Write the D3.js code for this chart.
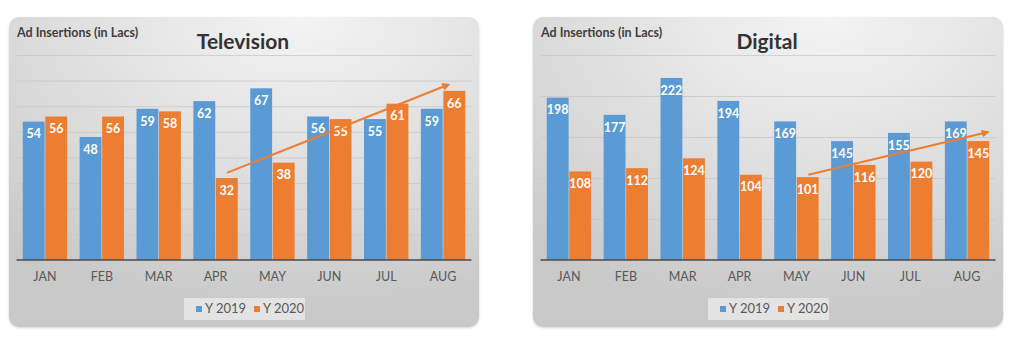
<!DOCTYPE html>
<html>
<head>
<meta charset="utf-8">
<script src="https://cdn.jsdelivr.net/npm/d3@7"></script>
<style>
  html, body { margin: 0; padding: 0; background: #ffffff; }
  svg { display: block; }
  text { font-family: Lato, "Open Sans", sans-serif; }
</style>
</head>
<body>
<svg id="chart" width="1024" height="344"></svg>
<script>
// ---------- data ----------
const months = ["JAN", "FEB", "MAR", "APR", "MAY", "JUN", "JUL", "AUG"];
const seriesNames = ["Y 2019", "Y 2020"];
const tv2019 = [54, 48, 59, 62, 67, 56, 55, 59];
const tv2020 = [56, 56, 58, 32, 38, 55, 61, 66];
const dig2019 = [198, 177, 222, 194, 169, 145, 155, 169];
const dig2020 = [108, 112, 124, 104, 101, 116, 120, 145];
const tvTicks = [0, 10, 20, 30, 40, 50, 60, 70, 80];
const digTicks = [0, 50, 100, 150, 200, 250];
// trend arrows: [category position (fractional index), value]
const tvTrend = [[3.2, 34], [7.1, 68.5]];
const digTrend = [[4.21, 104], [7.37, 156]];
const titles = ["Television", "Digital"];
const yAxisTitle = "Ad Insertions (in Lacs)";

// ---------- style ----------
const colors = ["#5B9BD5", "#ED7D31"];
const svg = d3.select("#chart");

const defs = svg.append("defs");
const grad = defs.append("radialGradient").attr("id", "panelBg")
  .attr("cx", "62%").attr("cy", "0%").attr("r", "95%").attr("fx", "62%").attr("fy", "0%");
grad.append("stop").attr("offset", "0%").attr("stop-color", "#f4f4f4");
grad.append("stop").attr("offset", "55%").attr("stop-color", "#dedede");
grad.append("stop").attr("offset", "100%").attr("stop-color", "#c9c9c9");

const shadow = defs.append("filter").attr("id", "shadow").attr("x", "-5%").attr("y", "-5%").attr("width", "110%").attr("height", "115%");
shadow.append("feDropShadow").attr("dx", 0).attr("dy", 1).attr("stdDeviation", 1.2).attr("flood-color", "#000").attr("flood-opacity", 0.18);

const marker = defs.append("marker").attr("id", "arrow").attr("viewBox", "0 0 10 10")
  .attr("refX", 8).attr("refY", 5).attr("markerWidth", 4).attr("markerHeight", 4).attr("orient", "auto");
marker.append("path").attr("d", "M0,0 L10,5 L0,10 z").attr("fill", colors[1]);

function drawPanel(px, title, s1, s2, ticks, trend) {
  const W = 470, H = 310, py = 17;
  const g = svg.append("g").attr("transform", `translate(${px},${py})`);
  g.append("rect").attr("width", W).attr("height", H).attr("rx", 10)
    .attr("fill", "url(#panelBg)").attr("filter", "url(#shadow)");

  const x0 = 7.5, x1 = 462.5, yTop = 38, yBase = 243;
  const x = d3.scaleBand().domain(months).range([x0, x1]).paddingInner(0.22).paddingOuter(0.11);
  const xs = d3.scaleBand().domain(seriesNames).range([0, x.bandwidth()]).paddingInner(0.03);
  const xLin = d3.scaleLinear().domain([-0.5, months.length - 0.5]).range([x0, x1]);
  const y = d3.scaleLinear().domain([0, d3.max(ticks)]).range([yBase, yTop]);

  // gridlines
  g.append("g").selectAll("line").data(ticks.slice(1)).join("line")
    .attr("x1", x0).attr("x2", x1)
    .attr("y1", d => y(d) + 0.5).attr("y2", d => y(d) + 0.5)
    .attr("stroke", "#c4c4c4").attr("stroke-opacity", 0.7).attr("stroke-width", 1);

  // bars
  const data = months.map((m, i) => ({ m, vals: [s1[i], s2[i]] }));
  const grp = g.append("g").selectAll("g").data(data).join("g")
    .attr("transform", d => `translate(${x(d.m)},0)`);
  grp.selectAll("rect").data(d => d.vals.map((v, k) => ({ v, k }))).join("rect")
    .attr("x", d => xs(seriesNames[d.k])).attr("width", xs.bandwidth())
    .attr("y", d => y(d.v)).attr("height", d => yBase - y(d.v))
    .attr("fill", d => colors[d.k]);
  grp.selectAll("text").data(d => d.vals.map((v, k) => ({ v, k }))).join("text")
    .attr("x", d => xs(seriesNames[d.k]) + xs.bandwidth() / 2)
    .attr("y", d => y(d.v) + 13.5)
    .attr("text-anchor", "middle").attr("dominant-baseline", "middle")
    .attr("fill", "#ffffff").attr("font-weight", "bold").attr("font-size", 12.5)
    .text(d => d.v);

  // axis
  const axis = g.append("g").attr("transform", `translate(0,${yBase})`)
    .call(d3.axisBottom(x).tickSize(0).tickPadding(12));
  axis.select(".domain").attr("stroke", "#4a4a4a").attr("stroke-width", 1.6)
    .attr("d", `M${x0},0H${x1}`);
  axis.selectAll("text").attr("font-size", 12.5).attr("fill", "#595959")
    .attr("font-family", "Lato, sans-serif");

  // trend arrow
  g.append("line")
    .attr("x1", xLin(trend[0][0])).attr("y1", y(trend[0][1]))
    .attr("x2", xLin(trend[1][0])).attr("y2", y(trend[1][1]))
    .attr("stroke", colors[1]).attr("stroke-width", 2).attr("marker-end", "url(#arrow)");

  // titles
  g.append("text").attr("x", 8).attr("y", 20).attr("font-size", 12.5).attr("font-weight", "bold")
    .attr("fill", "#404040").text(yAxisTitle);
  g.append("text").attr("x", 234).attr("y", 32)
    .attr("text-anchor", "middle").attr("font-size", 21).attr("font-weight", "bold")
    .attr("fill", "#333333").text(title);

  // legend
  const lg = g.append("g").attr("transform", `translate(${W / 2 - 60},281)`);
  lg.append("rect").attr("width", 121).attr("height", 22).attr("fill", "#e6e6e6").attr("opacity", 0.9);
  const items = lg.selectAll("g").data(seriesNames).join("g")
    .attr("transform", (d, i) => `translate(${12 + i * 58},0)`);
  items.append("rect").attr("x", 0).attr("y", 8).attr("width", 6).attr("height", 6)
    .attr("fill", (d, i) => colors[i]);
  items.append("text").attr("x", 9).attr("y", 11.5).attr("dominant-baseline", "middle")
    .attr("font-size", 13).attr("fill", "#595959").text(d => d);
}

drawPanel(9, titles[0], tv2019, tv2020, tvTicks, tvTrend);
drawPanel(533, titles[1], dig2019, dig2020, digTicks, digTrend);
</script>
</body>
</html>
